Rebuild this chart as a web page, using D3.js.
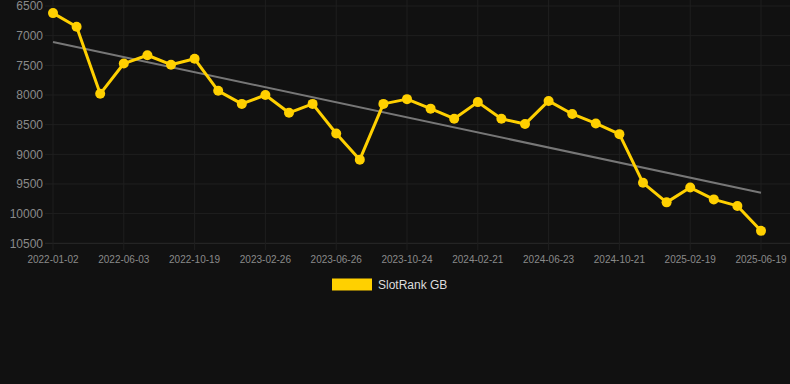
<!DOCTYPE html>
<html><head><meta charset="utf-8">
<script src="https://cdn.jsdelivr.net/npm/d3@7/dist/d3.min.js"></script>
<style>html,body{margin:0;padding:0;background:#111111;}svg{display:block;}</style>
</head><body>
<svg id="c" width="790" height="384"></svg>
<script>
const dates = ["2022-01-02","2022-02-21","2022-04-12","2022-06-03","2022-07-19","2022-09-03","2022-10-19","2022-12-07","2023-01-16","2023-02-26","2023-04-07","2023-05-17","2023-06-26","2023-08-05","2023-09-14","2023-10-24","2023-12-02","2024-01-12","2024-02-21","2024-04-01","2024-05-13","2024-06-23","2024-08-02","2024-09-11","2024-10-21","2024-11-30","2025-01-10","2025-02-19","2025-03-31","2025-05-10","2025-06-19"];
const ranks = [6620,6850,7980,7470,7330,7490,7390,7930,8150,8000,8300,8150,8650,9090,8150,8070,8230,8400,8120,8400,8490,8100,8320,8480,8660,9480,9810,9560,9760,9870,10290];
const trendEnds = [7107, 9648];
const yTicks = [6500,7000,7500,8000,8500,9000,9500,10000,10500];
const seriesName = "SlotRank GB";

const svg = d3.select("#c");
const x = d3.scalePoint().domain(dates).range([53, 761]);
const y = d3.scaleLinear().domain([6500, 10500]).range([6, 243.3]);

// grid
svg.append("g").selectAll("line").data(yTicks).join("line")
  .attr("x1", 45).attr("x2", 790).attr("y1", d=>y(d)).attr("y2", d=>y(d))
  .attr("stroke", d => d===10500 ? "#2a2a2a" : "#1f1f1f").attr("stroke-width",1);
const xTickDates = dates.filter((d,i)=> i%3===0);
svg.append("g").selectAll("line").data(xTickDates).join("line")
  .attr("x1", d=>x(d)).attr("x2", d=>x(d)).attr("y1", 0).attr("y2", 250)
  .attr("stroke", "#1f1f1f").attr("stroke-width",1);

// y labels
svg.append("g").selectAll("text").data(yTicks).join("text")
  .attr("x", 43).attr("y", d=>y(d)).attr("dy","0.35em").attr("text-anchor","end")
  .attr("font-family","'Liberation Sans',Arial,sans-serif").attr("font-size",12)
  .attr("fill","#8a8a8a").text(d=>d);
// x labels
svg.append("g").selectAll("text").data(xTickDates).join("text")
  .attr("x", d=>x(d)).attr("y", 259.5).attr("dy","0.35em").attr("text-anchor","middle")
  .attr("font-family","'Liberation Sans',Arial,sans-serif").attr("font-size",10)
  .attr("fill","#8a8a8a").text(d=>d);

// trend line
svg.append("line")
  .attr("x1", x(dates[0])).attr("y1", y(trendEnds[0]))
  .attr("x2", x(dates[dates.length-1])).attr("y2", y(trendEnds[1]))
  .attr("stroke","#777777").attr("stroke-width",2);

// series line
const data = dates.map((d,i)=>({d, v: ranks[i]}));
svg.append("path").datum(data)
  .attr("fill","none").attr("stroke","#FFD000").attr("stroke-width",3).attr("stroke-linejoin","round")
  .attr("d", d3.line().x(p=>x(p.d)).y(p=>y(p.v)));
svg.append("g").selectAll("circle").data(data).join("circle")
  .attr("cx", p=>x(p.d)).attr("cy", p=>y(p.v)).attr("r",5).attr("fill","#FFD000");

// legend
const lg = svg.append("g");
lg.append("rect").attr("x",332).attr("y",278.5).attr("width",40).attr("height",12).attr("fill","#FFD000");
lg.append("text").attr("x",378).attr("y",285).attr("dy","0.35em")
  .attr("font-family","'Liberation Sans',Arial,sans-serif").attr("font-size",12)
  .attr("fill","#dddddd").text(seriesName);
</script>
</body></html>
